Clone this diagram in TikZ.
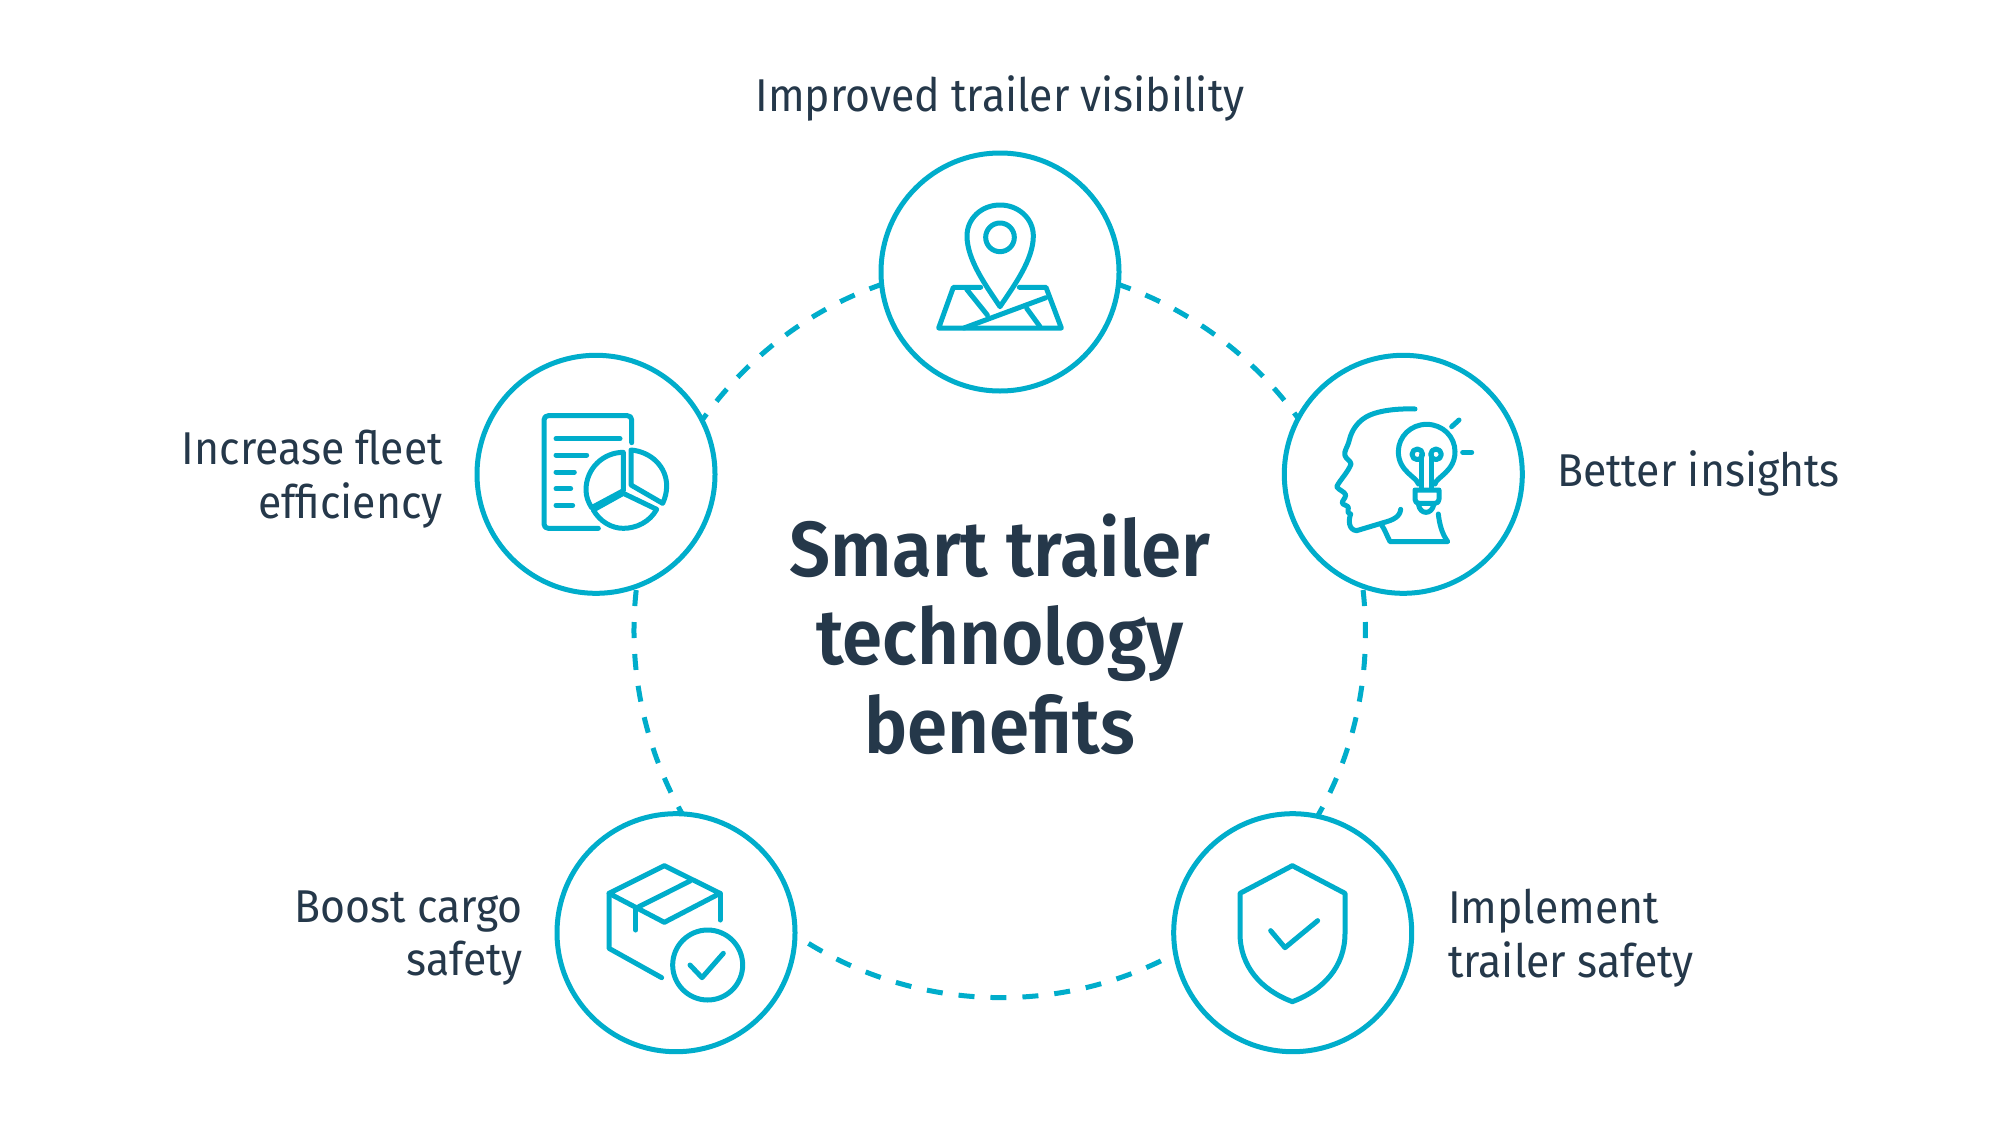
\documentclass[tikz,border=0pt]{standalone}
\usepackage{fontspec}
\setmainfont{Fira Sans}[BoldFont=* SemiBold,FakeStretch=0.93]
\definecolor{teal}{HTML}{00ADCB}
\definecolor{ink}{HTML}{25384A}
\tikzset{
  ring/.style={circle,draw=teal,line width=5pt,fill=white,minimum size=238pt,inner sep=0pt,outer sep=0pt},
  linkarc/.style={draw=teal,line width=5pt,dash pattern=on 16pt off 16pt},
  iconline/.style={draw=teal,line width=5pt,line cap=round,line join=round},
  icon/.style={shift={(#1)},x=.33333pt,y=-.33333pt},
  lbl/.style={text=ink,font=\fontsize{46}{53.5}\selectfont,inner sep=0pt},
  ttl/.style={text=ink,font=\fontsize{78}{88.3}\selectfont\bfseries,align=center,inner sep=0pt}
}
\begin{document}
\begin{tikzpicture}[x=1pt,y=-1pt]
\useasboundingbox (0,0) rectangle (1999,1143);
\fill[white] (0,0) rectangle (1999,1143);
% rings
\node[ring] (top) at (1000,272) {};
\node[ring] (right) at (1403.3,474.3) {};
\node[ring] (left) at (596,474.3) {};
\node[ring] (br) at (1292.7,932.7) {};
\node[ring] (bl) at (676,932.7) {};
% connectors
\draw[linkarc,dash phase=3pt] (top.-6.7) to[out=-19,in=125.8,looseness=.872] (right.152.2);
\draw[linkarc,dash phase=28pt] (right.250.6) to[out=-83,in=60,looseness=.872] (br.78.3);
\draw[linkarc,dash phase=16pt] (bl.-1.5) to[out=-33.9,in=208.5,looseness=.918] (br.190.1);
\draw[linkarc,dash phase=28pt] (left.-70.1) to[out=263,in=119.6,looseness=.872] (bl.87.3);
\draw[linkarc,dash phase=3pt] (top.186.7) to[out=199,in=54.4,looseness=.872] (left.27.5);
% pin and map
\begin{scope}[icon={860,130}]
\draw[iconline] (420,530) .. controls (380,470) and (321,390) .. (321,318) .. controls (321,265) and (365,225) .. (420,225) .. controls (475,225) and (520,265) .. (520,318) .. controls (520,390) and (460,470) .. cycle;
\draw[iconline] (420,322) circle[radius=43];
\draw[iconline] (362,472) -- (280,472) -- (236,594) -- (604,594) -- (558,472) -- (478,472);
\draw[iconline] (312,594) -- (558,503);
\draw[iconline] (320,478) -- (382,555);
\draw[iconline] (500,535) -- (540,590);
\end{scope}
% head and bulb
\begin{scope}[icon={1280,340}]
\draw[iconline] (405,207) .. controls (350,205) and (300,212) .. (270,225) .. controls (235,240) and (215,270) .. (208,300) .. controls (203,322) and (190,335) .. (195,347) .. controls (198,357) and (212,362) .. (213,372) .. controls (205,395) and (180,420) .. (170,440) .. controls (175,450) and (195,455) .. (197,465) .. controls (197,475) and (185,482) .. (187,490) .. controls (190,495) and (205,497) .. (205,503) .. controls (208,512) and (197,518) .. (212,522) .. controls (205,540) and (205,570) .. (230,572) -- (310,548) .. controls (340,540) and (360,530) .. (362,508);
\draw[iconline] (305,555) .. controls (315,570) and (322,590) .. (330,605) -- (503,605) .. controls (485,580) and (478,550) .. (475,522);
\draw[iconline] (415,432) .. controls (412,412) and (355,395) .. (355,335) .. controls (355,290) and (392,253) .. (440,253) .. controls (488,253) and (525,290) .. (525,335) .. controls (525,395) and (468,412) .. (465,432);
\draw[iconline] (405,450) -- (477,450) -- (477,478) .. controls (477,485) and (472,490) .. (465,490) -- (417,490) .. controls (410,490) and (405,485) .. (405,478) -- cycle;
\draw[iconline] (415,492) .. controls (418,510) and (428,517) .. (438,517) .. controls (448,517) and (458,510) .. (462,492);
\draw[iconline] (425,447) -- (425,345);
\draw[iconline] (455,447) -- (455,345);
\draw[iconline] (412,343) circle[radius=16];
\draw[iconline] (468,343) circle[radius=16];
\draw[iconline] (515,260) -- (537,240);
\draw[iconline] (548,337) -- (575,337);
\end{scope}
% document and pie
\begin{scope}[icon={460,340}]
\draw[iconline] (415,565) -- (265,565) .. controls (257,565) and (252,560) .. (252,552) -- (252,240) .. controls (252,232) and (257,227) .. (265,227) -- (502,227) .. controls (510,227) and (515,232) .. (515,240) -- (515,308);
\draw[iconline] (288,296) -- (480,296);
\draw[iconline] (288,345) -- (380,345);
\draw[iconline] (288,396) -- (343,396);
\draw[iconline] (288,446) -- (332,446);
\draw[iconline] (288,496) -- (338,496);
\draw[iconline] (490,337) .. controls (430,337) and (378,385) .. (378,450) .. controls (378,470) and (385,487) .. (395,503) -- (490,452) -- cycle;
\draw[iconline] (400,510) .. controls (420,545) and (455,565) .. (490,565) .. controls (530,565) and (570,545) .. (590,508) -- (490,460) -- cycle;
\draw[iconline] (513,330) .. controls (573,335) and (620,380) .. (620,438) .. controls (620,458) and (615,475) .. (608,490) -- (513,435) -- cycle;
\end{scope}
% box
\begin{scope}[icon={540,800}]
\draw[iconline] (373,197) -- (540,280) -- (373,367) -- (207,280) -- cycle;
\draw[iconline] (287,325) -- (450,243);
\draw[iconline] (287,325) -- (287,390);
\draw[iconline] (540,280) -- (540,360);
\draw[iconline] (207,280) -- (207,445) -- (365,533);
\draw[iconline] (503,495) circle[radius=105];
\draw[iconline] (450,495) -- (486,533) -- (550,460);
\end{scope}
% shield
\begin{scope}[icon={1160,800}]
\draw[iconline] (397,197) -- (555,280) -- (555,400) .. controls (555,500) and (490,570) .. (397,605) .. controls (304,570) and (240,500) .. (240,400) -- (240,280) -- cycle;
\draw[iconline] (332,392) -- (375,443) -- (473,362);
\end{scope}
% labels
\node[lbl] (t1) at (1000,98) {Improved trailer visibility};
\node[lbl,anchor=west] (t2) at (1557,473) {Better insights};
\node[lbl,anchor=west,align=left] (t3) at (1448,938) {Implement\\trailer safety};
\node[lbl,anchor=east,align=right] (t4) at (523,938) {Boost cargo\\safety};
\node[lbl,anchor=east,align=right] (t5) at (443,479) {Increase fleet\\efficiency};
\node[ttl] (c) at (1000,634) {Smart trailer\\technology\\benefits};
\end{tikzpicture}
\end{document}
